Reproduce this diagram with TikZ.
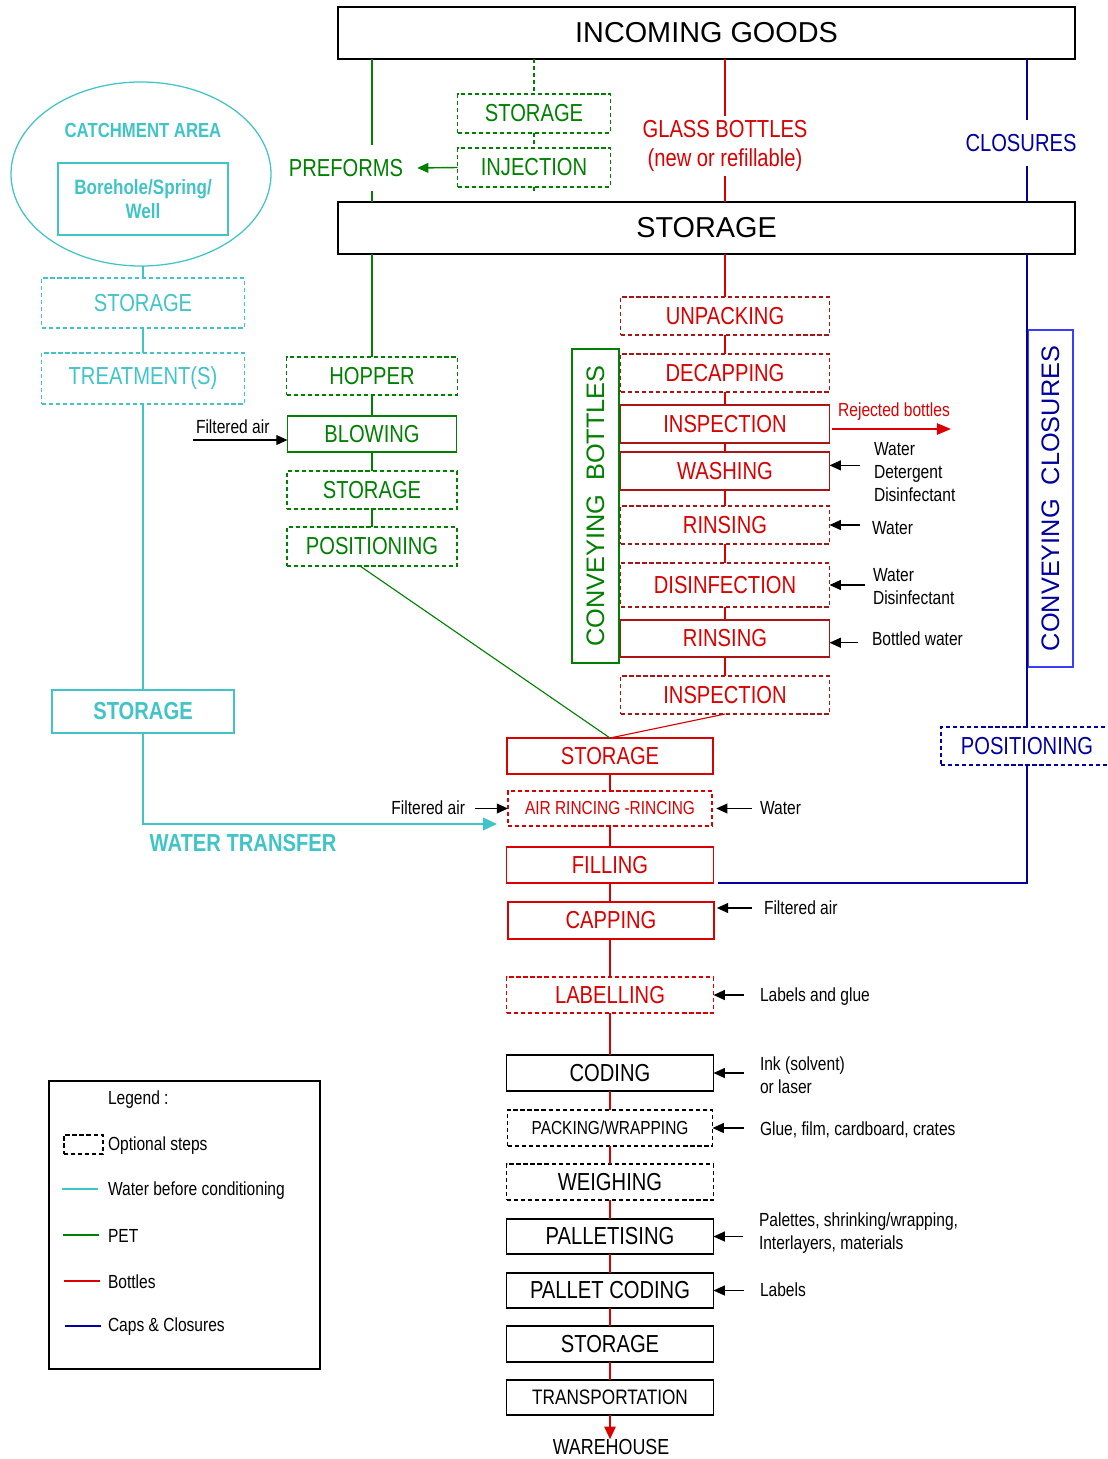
\documentclass[tikz,border=0pt]{standalone}
\usepackage{fontspec}
\setmainfont{Liberation Sans}
\newfontfamily\narrowsf{Liberation Sans}[FakeStretch=0.82]
\usetikzlibrary{arrows.meta,shapes.geometric}

\definecolor{watercol}{RGB}{64,196,200}
\definecolor{petcol}{RGB}{0,128,0}
\definecolor{bottlecol}{RGB}{218,0,0}
\definecolor{bottlebox}{RGB}{170,20,20}
\definecolor{capcol}{RGB}{0,0,160}
\definecolor{capbox}{RGB}{60,60,255}

\tikzset{
  every node/.style={inner sep=0pt, outer sep=0pt},
  stage/.style 2 args={draw, line width=0.9pt, minimum width=#1*0.025cm, minimum height=#2*0.025cm, font=\narrowsf\fontsize{17.5}{20}\selectfont},
  optional/.style={dash pattern=on 3pt off 2pt},
  bigtxt/.style={font=\fontsize{20.5}{24}\selectfont},
  smalltxt/.style={font=\narrowsf\fontsize{13.5}{16.3}\selectfont},
  sidetxt/.style={smalltxt, align=left, anchor=west},
  conveyor/.style 2 args={draw, line width=0.9pt, rotate=90, minimum width=#1*0.025cm, minimum height=#2*0.025cm, font=\fontsize{18}{20}\selectfont},
  flow/.style={line width=1.3pt},
  feed/.style={line width=1pt, -{Triangle[length=8pt,width=7pt]}},
}

\begin{document}
\begin{tikzpicture}[x=0.025cm, y=-0.025cm]
			%%%%% START %%%%%
			\useasboundingbox (0,0) rectangle (1107,1459);
			
			% incoming goods and storage
			\node[stage={737}{52}, bigtxt] (incoming) at (706.5,33) {INCOMING GOODS};
			\node[stage={737}{52}, bigtxt] (storetop) at (706.5,228) {STORAGE};
			
			% water
			\node[draw=watercol, ellipse, line width=0.9pt, minimum width=260*0.025cm, minimum height=184*0.025cm] (catch) at (141,174) {};
			\node[text=watercol, font=\narrowsf\bfseries\fontsize{14.5}{17}\selectfont] (catchtxt) at (143,130) {CATCHMENT AREA};
			\node[stage={170}{72}, draw=watercol, text=watercol, align=center, font=\narrowsf\bfseries\fontsize{14.8}{17}\selectfont] (bore) at (143,199) {Borehole/Spring/\\Well};
			\node[stage={203}{50}, optional, draw=watercol, text=watercol] (wstore) at (143,303) {STORAGE};
			\node[stage={203}{51}, optional, draw=watercol, text=watercol] (wtreat) at (143,378.5) {TREATMENT(S)};
			\node[stage={182}{43}, draw=watercol, text=watercol, font=\narrowsf\bfseries\fontsize{17.5}{20}\selectfont] (wstock) at (143,711.5) {STORAGE};
			\node[text=watercol, font=\narrowsf\bfseries\fontsize{17.5}{20}\selectfont] (wtransfer) at (243,843) {WATER TRANSFER};
			\coordinate (wtend) at (497,824);
			
			\draw[watercol, flow] (catch.south -| wstore) -- (wstore.north) (wstore) -- (wtreat) (wtreat) -- (wstock);
			\draw[watercol, flow, -{Triangle[length=10pt,width=9pt]}] (wstock.south) |- (wtend);
			
			% pet
			\node[stage={153}{39}, optional, draw=petcol, text=petcol] (pstore) at (534,113.5) {STORAGE};
			\node[stage={153}{39}, optional, draw=petcol, text=petcol] (inject) at (534,167.5) {INJECTION};
			\node[text=petcol, font=\narrowsf\fontsize{17.5}{20}\selectfont, inner ysep=10pt] (preforms) at (346,168) {PREFORMS};
			\node[stage={171}{38}, optional, draw=petcol, text=petcol] (hopper) at (372,376) {HOPPER};
			\node[stage={169}{36}, draw=petcol, text=petcol] (blowing) at (372,434) {BLOWING};
			\node[stage={170}{38}, optional, draw=petcol, text=petcol] (pstore2) at (372,490) {STORAGE};
			\node[stage={170}{39}, optional, draw=petcol, text=petcol] (ppos) at (372,546.5) {POSITIONING};
			\node[conveyor={314}{47}, draw=petcol, text=petcol] (convbottles) at (595.5,506) {CONVEYING\ \ BOTTLES};
			\node[sidetxt] (fair1) at (196,427) {Filtered air};
			\coordinate (fair1tail) at (193,440);
			
			\draw[petcol, flow] (incoming.south -| hopper) -- (preforms.north -| hopper);
			\draw[petcol, flow] (preforms.south -| hopper) -- (storetop.north -| hopper);
			\draw[petcol, flow] (storetop.south -| hopper) -- (hopper.north);
			\draw[petcol, flow, optional] (incoming.south -| pstore) -- (pstore.north) (pstore) -- (inject) (inject.south) -- ++(0,6);
			\draw[petcol, feed] (inject.west) -- ([xshift=0.35cm]preforms.east);
			\draw[petcol, flow] (hopper) -- (blowing) (blowing) -- (pstore2) (pstore2) -- (ppos);
			\draw[feed] (fair1tail) -- (blowing.west |- fair1tail);
			
			% bottles
			\node[text=bottlecol, align=center, font=\narrowsf\fontsize{17.5}{21}\selectfont, inner ysep=3pt] (glass) at (725,146) {GLASS BOTTLES\\(new or refillable)};
			\node[stage={209}{38}, optional, draw=bottlebox, text=bottlecol] (unpack) at (725,316) {UNPACKING};
			\node[stage={209}{38}, optional, draw=bottlebox, text=bottlecol] (decap) at (725,373) {DECAPPING};
			\node[stage={209}{38}, draw=bottlebox, text=bottlecol] (insp1) at (725,424) {INSPECTION};
			\node[stage={209}{38}, draw=bottlebox, text=bottlecol] (wash) at (725,471) {WASHING};
			\node[stage={209}{38}, optional, draw=bottlebox, text=bottlecol] (rinse1) at (725,525) {RINSING};
			\node[stage={209}{44}, optional, draw=bottlebox, text=bottlecol] (disinf) at (725,585) {DISINFECTION};
			\node[stage={209}{37}, draw=bottlebox, text=bottlecol] (rinse2) at (725,638.5) {RINSING};
			\node[stage={209}{38}, optional, draw=bottlebox, text=bottlecol] (insp2) at (725,695) {INSPECTION};
			
			\draw[bottlecol, flow] (incoming.south -| unpack) -- (glass.north -| unpack);
			\draw[bottlecol, flow] (glass.south -| unpack) -- (storetop.north -| unpack);
			\draw[bottlecol, flow] (storetop.south -| unpack) -- (unpack.north);
			\foreach \a/\b in {unpack/decap, decap/insp1, insp1/wash, wash/rinse1, rinse1/disinf, disinf/rinse2, rinse2/insp2}
				\draw[bottlecol, flow] (\a) -- (\b);
			
			\node[text=bottlecol, smalltxt] (rejtxt) at (894,412) {Rejected bottles};
			\coordinate (rejend) at (951,429);
			\draw[bottlecol, flow, -{Triangle[length=10pt,width=8pt]}] ([xshift=2pt]insp1.east |- rejend) -- (rejend);
			\node[sidetxt] (twash) at (874,472) {Water\\Detergent\\Disinfectant};
			\node[sidetxt] (trinse1) at (872,528) {Water};
			\node[sidetxt] (tdisinf) at (873,587) {Water\\Disinfectant};
			\node[sidetxt] (trinse2) at (872,639) {Bottled water};
			\draw[feed] ([xshift=-0.35cm,yshift=4pt]twash.west |- wash) -- ([yshift=4pt]wash.east);
			\draw[feed] ([xshift=-0.3cm]trinse1.west |- rinse1) -- (rinse1.east);
			\draw[feed] ([xshift=-0.2cm]tdisinf.west |- disinf) -- (disinf.east);
			\draw[feed] ([xshift=-0.35cm,yshift=-3pt]trinse2.west |- rinse2) -- ([yshift=-3pt]rinse2.east);
			
			% closures
			\node[text=capcol, font=\narrowsf\fontsize{17.5}{20}\selectfont, inner ysep=10pt] (closures) at (1021,143) {CLOSURES};
			\node[stage={172}{38}, optional, draw=capcol, text=capcol] (cpos) at (1027,746) {POSITIONING};
			\node[conveyor={337}{45}, draw=capbox, text=capcol] (convclosures) at (1050.5,498.5) {CONVEYING\ \ CLOSURES};
			
			% filling line
			\node[stage={206}{36}, draw=bottlecol, text=bottlecol] (store3) at (610,756) {STORAGE};
			\node[stage={204}{35}, optional, draw=bottlecol, text=bottlecol, font=\narrowsf\fontsize{13.4}{16}\selectfont] (airrinse) at (610,808.5) {AIR RINCING -RINCING};
			\node[stage={207}{36}, draw=bottlecol, text=bottlecol] (filling) at (610,865) {FILLING};
			\node[stage={206}{37}, draw=bottlecol, text=bottlecol] (capping) at (611,920.5) {CAPPING};
			\node[stage={207}{36}, optional, draw=bottlecol, text=bottlecol] (labelling) at (610,995) {LABELLING};
			\node[stage={207}{36}] (coding) at (610,1073) {CODING};
			\node[stage={205}{36}, optional, font=\narrowsf\fontsize{13.4}{16}\selectfont] (packing) at (610,1128) {PACKING/WRAPPING};
			\node[stage={207}{36}, optional] (weighing) at (610,1182) {WEIGHING};
			\node[stage={207}{35}] (palletising) at (610,1236.5) {PALLETISING};
			\node[stage={207}{35}] (palcoding) at (610,1290.5) {PALLET CODING};
			\node[stage={207}{36}] (store4) at (610,1344) {STORAGE};
			\node[stage={207}{35}, font=\narrowsf\fontsize{14.9}{17}\selectfont] (transport) at (610,1397.5) {TRANSPORTATION};
			\node[font=\narrowsf\fontsize{15.5}{18}\selectfont] (warehouse) at (611,1447) {WAREHOUSE};
			
			\draw[petcol, line width=0.8pt] ([xshift=-0.3cm]ppos.south) -- (store3.north);
			\draw[bottlecol, line width=0.8pt] (insp2.south) -- (store3.north);
			\foreach \a/\b in {store3/airrinse, airrinse/filling, filling/capping, capping/labelling, labelling/coding, coding/packing, packing/weighing, weighing/palletising, palletising/palcoding, palcoding/store4, store4/transport}
				\draw[bottlecol, flow] (\a.south -| store3) -- (\b.north -| store3);
			\draw[bottlecol, flow, -{Triangle[length=9pt,width=8pt]}] (transport.south -| store3) -- (warehouse.north -| store3);
			
			\draw[capcol, line width=1.4pt] (incoming.south -| cpos) -- (closures.north -| cpos) (closures.south -| cpos) -- (storetop.north -| cpos) (storetop.south -| cpos) -- (cpos.north);
			\draw[capcol, line width=1.4pt] (cpos.south) |- ([xshift=3pt]filling.south east);
			
			% inputs of the filling line
			\node[smalltxt, anchor=east] (fair2) at (465,808) {Filtered air};
			\node[sidetxt] (twater) at (760,808) {Water};
			\node[sidetxt] (fair3) at (764,908) {Filtered air};
			\node[sidetxt] (tlabel) at (760,997) {Labels and glue};
			\node[sidetxt] (tink) at (760,1075) {Ink (solvent)\\or laser};
			\node[sidetxt] (tglue) at (760,1130) {Glue, film, cardboard, crates};
			\node[sidetxt] (tpal) at (759,1233) {Palettes, shrinking/wrapping,\\Interlayers, materials};
			\node[sidetxt] (tlabels) at (760,1290) {Labels};
			
			\draw[feed] ([xshift=0.25cm]fair2.east |- airrinse) -- (airrinse.west);
			\draw[feed] ([xshift=-0.2cm]twater.west |- airrinse) -- ([xshift=3pt]airrinse.east);
			\draw[feed] ([xshift=-0.3cm]fair3.west) -- ([xshift=2pt]capping.east |- fair3.west);
			\draw[feed] ([xshift=-0.4cm]tlabel.west |- labelling) -- (labelling.east);
			\draw[feed] ([xshift=-0.4cm]tink.west |- coding) -- (coding.east);
			\draw[feed] ([xshift=-0.4cm]tglue.west |- packing) -- (packing.east);
			\draw[feed] ([xshift=-0.4cm]tpal.west |- palletising) -- (palletising.east);
			\draw[feed] ([xshift=-0.4cm]tlabels.west |- palcoding) -- (palcoding.east);
			
			% legend
			\node[draw, line width=0.9pt, minimum width=271*0.025cm, minimum height=288*0.025cm] (legend) at (184.5,1225) {};
			\node[sidetxt] (legtitle) at (108,1100) {Legend :};
			\node[draw, optional, line width=0.8pt, minimum width=39*0.025cm, minimum height=19*0.025cm] (legopt) at (83.5,1144.5) {};
			\node[sidetxt] (legopttxt) at (108,1146) {Optional steps};
			\node[sidetxt] (legwater) at (108,1191) {Water before conditioning};
			\node[sidetxt] (legpet) at (108,1236) {PET};
			\node[sidetxt] (legbottle) at (108,1282) {Bottles};
			\node[sidetxt] (legcap) at (108,1327) {Caps \& Closures};
			\draw[watercol, line width=1.4pt] (62,1189) -- (98,1189);
			\draw[petcol, line width=1.4pt] (63,1235) -- (99,1235);
			\draw[bottlecol, line width=1.4pt] (64,1281) -- (100,1281);
			\draw[capcol, line width=1.4pt] (65,1326) -- (101,1326);
			
			%%%%% END %%%%%
\end{tikzpicture}
\end{document}
